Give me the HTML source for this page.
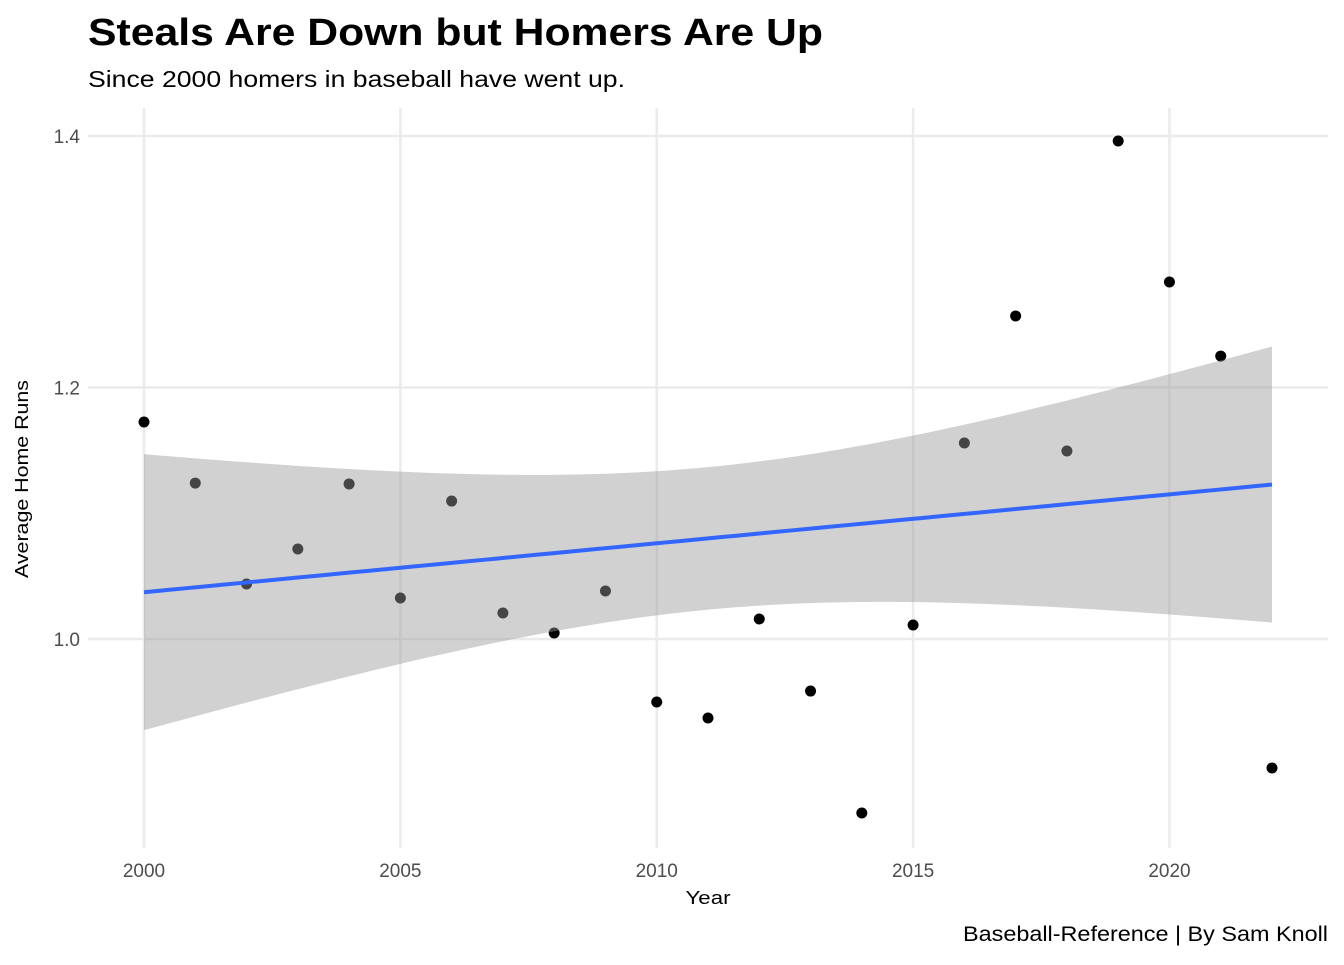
<!DOCTYPE html>
<html><head><meta charset="utf-8"><style>
body{margin:0;background:#fff;font-family:"Liberation Sans",sans-serif}
</style></head><body>
<svg id="chart" width="1344" height="960" xmlns="http://www.w3.org/2000/svg" font-family="Liberation Sans, sans-serif">
<text x="88" y="45" font-size="38" font-weight="bold" fill="#000" textLength="735" lengthAdjust="spacingAndGlyphs">Steals Are Down but Homers Are Up</text>
<text x="88" y="87" font-size="23" fill="#000" textLength="537" lengthAdjust="spacingAndGlyphs">Since 2000 homers in baseball have went up.</text>
<g id="grid"></g>
<g id="points"></g>
<g id="smooth"></g>
<g id="axes"></g>
<text x="708" y="904" font-size="18" text-anchor="middle" fill="#000" textLength="45" lengthAdjust="spacingAndGlyphs">Year</text>
<text transform="translate(28,479) rotate(-90)" font-size="18" text-anchor="middle" fill="#000" textLength="198" lengthAdjust="spacingAndGlyphs">Average Home Runs</text>
<text x="1328" y="941" font-size="21" text-anchor="end" fill="#000" textLength="365" lengthAdjust="spacingAndGlyphs">Baseball-Reference | By Sam Knoll</text>
</svg>
<script>
const years=[2000,2001,2002,2003,2004,2005,2006,2007,2008,2009,2010,2011,2012,2013,2014,2015,2016,2017,2018,2019,2020,2021,2022];
const homers=[1.1726,1.124,1.0437,1.0716,1.1233,1.0326,1.1097,1.0207,1.0048,1.0382,0.9499,0.9372,1.0159,0.9586,0.8616,1.0111,1.1559,1.2569,1.1495,1.396,1.2839,1.2250,0.8974];
const xTicks=[2000,2005,2010,2015,2020];
const yTicks=[1.0,1.2,1.4];
const yTickLabels=["1.0","1.2","1.4"];
const NS="http://www.w3.org/2000/svg";
const L=88,R=1328,T=108,B=848;
const xs=v=>144+(v-2000)*(1272-144)/22;
const ys=v=>639-(v-1.0)*1257.5;
function mk(tag,attrs,parent){const e=document.createElementNS(NS,tag);for(const k in attrs)e.setAttribute(k,attrs[k]);parent.appendChild(e);return e;}
const grid=document.getElementById('grid'),axes=document.getElementById('axes');
xTicks.forEach(v=>{const l=mk('line',{x1:xs(v),x2:xs(v),y1:T,y2:B,stroke:'#ebebeb','stroke-width':2.5},grid);
const t=mk('text',{x:xs(v),y:877,'font-size':19,'text-anchor':'middle',fill:'#4d4d4d'},axes);t.textContent=v;});
yTicks.forEach((v,i)=>{const l=mk('line',{x1:L,x2:R,y1:ys(v),y2:ys(v),stroke:'#ebebeb','stroke-width':2.5},grid);
const t=mk('text',{x:80,y:ys(v)+7,'font-size':19,'text-anchor':'end',fill:'#4d4d4d'},axes);t.textContent=yTickLabels[i];});
const pg=document.getElementById('points');
years.forEach((y,i)=>{const c=mk('circle',{cx:xs(y),cy:ys(homers[i]),r:5.5,fill:'#000'},pg);});
const n=years.length,mx=years.reduce((a,b)=>a+b)/n,my=homers.reduce((a,b)=>a+b)/n;
let sxx=0,sxy=0;years.forEach((x,i)=>{sxx+=(x-mx)**2;sxy+=(x-mx)*(homers[i]-my);});
const b1=sxy/sxx,b0=my-b1*mx;let sse=0;years.forEach((x,i)=>{sse+=(homers[i]-b0-b1*x)**2;});
const s=Math.sqrt(sse/(n-2)),tq=2.080;
const up=[],lo=[],ln=[];
for(let k=0;k<=80;k++){const x=2000+22*k/80,f=b0+b1*x,se=s*Math.sqrt(1/n+(x-mx)**2/sxx);up.push([xs(x),ys(f+tq*se)]);lo.push([xs(x),ys(f-tq*se)]);ln.push([xs(x),ys(f)]);}
const sm=document.getElementById('smooth');
const band=mk('path',{d:'M'+up.map(p=>p.join(',')).join('L')+'L'+lo.reverse().map(p=>p.join(',')).join('L')+'Z',fill:'#999999','fill-opacity':0.45},sm);

const line=mk('path',{d:'M'+ln.map(p=>p.join(',')).join('L'),fill:'none',stroke:'#3366ff','stroke-width':4},sm);

</script>
</body></html>
